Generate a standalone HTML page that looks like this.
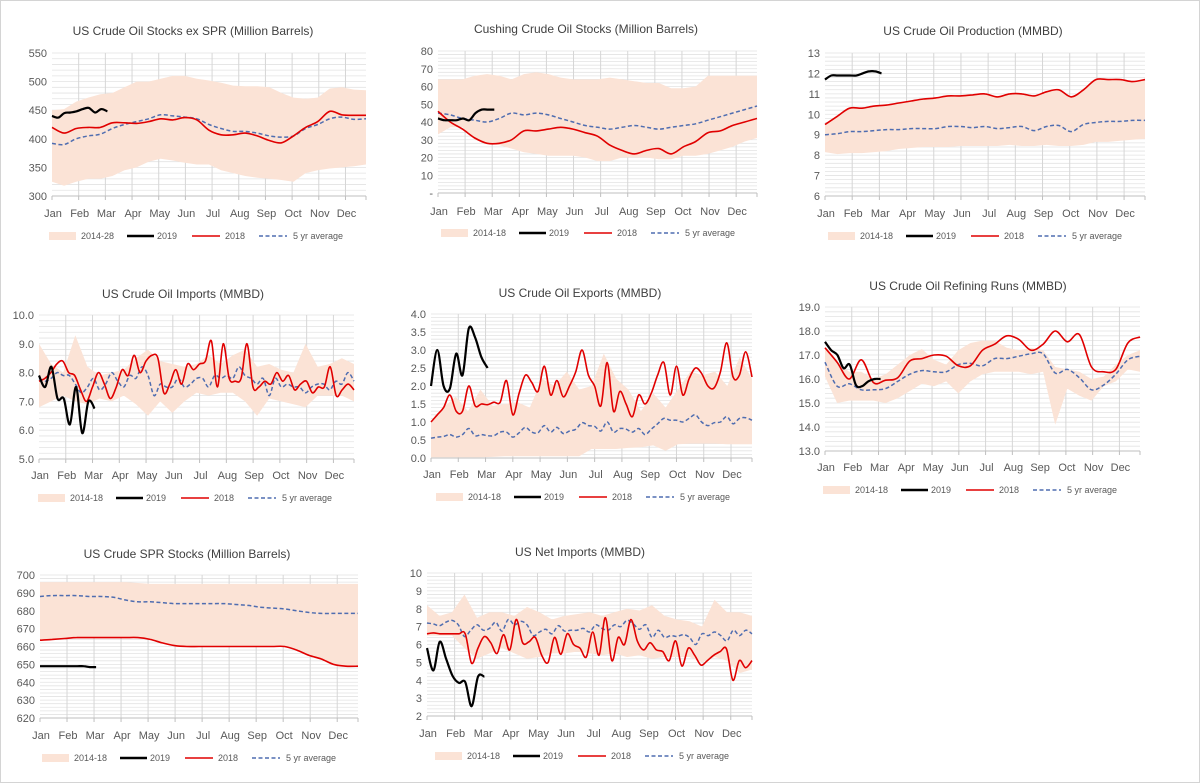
<!DOCTYPE html>
<html><head><meta charset="utf-8"><style>
html,body{margin:0;padding:0;background:#fff;}
svg{display:block;font-family:"Liberation Sans",Arial,sans-serif;}
</style></head><body>
<svg id="root" width="1200" height="783" viewBox="0 0 1200 783" xmlns="http://www.w3.org/2000/svg">
<rect x="0.5" y="0.5" width="1199" height="782" fill="#fff" stroke="#d4d4d4"/>
</svg>
<script>
const monthLabels = ["Jan","Feb","Mar","Apr","May","Jun","Jul","Aug","Sep","Oct","Nov","Dec"];

// Chart 1: US Crude Oil Stocks ex SPR
const c1Upper = [450,452,465,472,478,480,490,500,500,505,510,510,505,502,498,493,492,492,490,480,472,470,472,488,490,486,485];
const c1Lower = [325,318,325,330,330,335,345,350,360,365,362,358,355,355,345,340,335,332,330,328,325,340,345,348,350,352,355];
const c1Y2018 = [420,410,418,420,420,428,428,427,430,435,433,437,433,415,407,407,410,405,397,393,405,420,430,448,442,441,441];
const c1Avg = [392,390,400,405,408,418,425,430,435,442,440,438,435,425,418,413,413,410,405,403,405,418,425,435,438,434,435];
const c1Y2019 = [440,437,445,446,448,452,454,446,452,448];
const c1Ticks = [300,350,400,450,500,550];

// Chart 2: Cushing
const c2Upper = [64,64,64,66,67,66,64,67,68,67,65,64,64,64,65,64,63,62,62,59,59,60,66,66,66,66,66];
const c2Lower = [33,37,37,30,28,27,25,23,22,21,21,21,20,18,18,20,20,20,19,19,21,21,22,24,26,29,31];
const c2Y2018 = [46,40,36,31,28,28,30,35,35,36,37,36,34,32,27,24,22,24,25,22,26,29,34,35,38,40,42];
const c2Avg = [45,44,42,41,40,42,45,44,45,44,42,40,38,37,36,37,38,37,36,37,38,39,41,43,45,47,49];
const c2Y2019 = [42,41,41,41,42,41,45,47,47,47];
const c2Ticks = [0,10,20,30,40,50,60,70,80];

// Chart 3: Production
const c3Upper = [9.5,9.9,10.3,10.3,10.4,10.45,10.55,10.65,10.75,10.8,10.9,10.9,10.95,11.0,10.85,11.0,11.0,10.9,11.1,11.2,10.85,11.2,11.7,11.7,11.7,11.6,11.7];
const c3Lower = [8.15,8.05,8.1,8.1,8.15,8.2,8.3,8.35,8.4,8.4,8.4,8.45,8.45,8.45,8.45,8.5,8.45,8.45,8.5,8.45,8.45,8.5,8.65,8.65,8.7,8.75,8.8];
const c3Y2018 = [9.5,9.9,10.3,10.3,10.4,10.45,10.55,10.65,10.75,10.8,10.9,10.9,10.95,11.0,10.85,11.0,11.0,10.9,11.1,11.2,10.85,11.2,11.7,11.7,11.7,11.6,11.7];
const c3Avg = [9.0,9.05,9.15,9.15,9.2,9.25,9.25,9.3,9.3,9.3,9.4,9.4,9.35,9.4,9.3,9.35,9.4,9.2,9.4,9.45,9.15,9.5,9.6,9.65,9.65,9.7,9.7];
const c3Y2019 = [11.7,11.9,11.9,11.9,11.9,11.9,12.0,12.1,12.1,12.0];
const c3Ticks = [6,7,8,9,10,11,12,13];

// Chart 4: Imports
const c4Upper = [9.0,8.3,8.0,9.3,8.2,7.9,8.0,8.1,8.5,8.8,8.4,8.3,8.2,8.3,8.6,8.3,8.6,8.8,8.2,8.3,8.1,8.0,9.0,8.2,8.3,8.5,8.3];
const c4Lower = [6.8,7.0,7.2,7.0,6.9,7.1,7.0,7.2,6.9,6.5,7.0,6.6,7.0,7.3,7.2,7.3,7.3,7.0,6.5,7.1,7.0,6.9,6.8,7.2,7.2,7.2,7.0];
const c4Y2018 = [7.7,7.8,8.0,8.3,8.4,8.0,7.9,7.4,7.0,7.5,8.0,7.6,7.1,7.5,8.1,7.9,8.6,8.0,8.4,8.6,8.5,7.3,7.6,8.1,7.6,8.3,8.1,8.3,8.4,9.1,7.5,9.0,7.8,7.7,7.8,9.0,7.5,7.5,7.7,7.6,8.0,7.7,7.9,7.4,7.6,7.7,7.3,7.5,7.5,8.2,7.2,7.4,7.6,7.4];
const c4Avg = [7.8,7.7,7.8,8.0,7.9,7.9,7.6,7.3,7.5,7.8,7.4,7.6,8.0,7.7,7.5,7.9,7.8,8.2,7.9,7.2,7.6,7.5,7.5,7.8,7.5,7.6,7.8,7.8,7.5,7.9,7.8,7.9,7.8,8.2,7.9,7.8,7.6,7.8,7.2,7.8,7.5,7.6,7.5,7.5,7.3,7.5,7.6,7.6,7.4,7.7,7.6,8.0,7.7];
const c4Y2019 = [7.9,7.5,8.2,7.1,7.1,6.2,7.5,5.9,7.0,6.75];
const c4Ticks = [5,6,7,8,9,10];

// Chart 5: Exports
const c5Upper = [1.0,1.4,1.7,1.3,1.9,1.45,1.5,1.55,1.4,2.2,2.0,2.4,1.9,2.0,2.9,2.2,1.9,1.3,1.8,1.4,1.9,2.4,2.3,2.4,2.0,2.8,2.2];
const c5Lower = [0.02,0.02,0.02,0.02,0.02,0.03,0.05,0.05,0.05,0.05,0.05,0.05,0.05,0.25,0.25,0.25,0.28,0.3,0.35,0.2,0.38,0.4,0.4,0.4,0.38,0.38,0.38];
const c5Y2018 = [1.0,1.2,1.4,1.75,1.3,1.3,2.0,1.45,1.5,1.48,1.55,1.55,2.15,1.2,1.8,2.3,2.1,1.85,2.55,1.75,2.15,1.7,2.0,2.4,3.0,2.3,2.0,1.45,2.65,1.3,1.85,1.5,1.15,1.75,1.5,1.8,2.3,2.65,1.75,2.55,1.75,2.2,2.5,2.35,2.0,1.95,2.4,3.2,2.25,2.3,2.95,2.25];
const c5Avg = [0.55,0.58,0.6,0.65,0.58,0.65,0.82,0.62,0.65,0.62,0.62,0.72,0.72,0.58,0.7,0.85,0.72,0.7,0.9,0.72,0.85,0.68,0.75,0.8,0.98,0.9,0.88,0.75,1.0,0.72,0.82,0.8,0.72,0.82,0.65,0.8,0.95,1.1,1.05,1.05,1.0,1.1,1.2,1.0,0.9,0.98,1.0,1.15,0.95,1.1,1.12,1.05];
const c5Y2019 = [2.0,3.0,2.0,1.93,2.9,2.3,3.6,3.35,2.8,2.5];
const c5Ticks = [0,0.5,1,1.5,2,2.5,3,3.5,4];

// Chart 6: Refining runs
const c6Upper = [17.3,16.7,16.3,16.3,16.0,16.2,16.6,17.0,17.25,16.8,16.6,17.2,17.5,17.6,17.6,17.3,17.2,17.3,17.2,16.5,16.4,16.3,16.0,16.1,16.6,17.0,17.2];
const c6Lower = [16.1,15.0,15.1,15.1,15.1,15.0,15.2,15.5,15.8,15.7,15.9,15.4,15.9,16.2,16.3,16.3,16.3,16.2,16.3,14.1,15.6,15.3,15.1,15.7,15.9,16.4,16.3];
const c6Y2018 = [17.3,16.7,16.0,16.8,15.85,15.95,16.05,16.75,16.85,17.0,16.95,16.55,16.55,17.2,17.45,17.8,17.65,17.2,17.45,18.0,17.55,17.85,16.5,16.3,16.4,17.5,17.75];
const c6Avg = [16.7,15.7,15.8,15.55,15.55,15.6,15.9,16.2,16.35,16.3,16.3,16.6,16.65,16.55,16.85,16.85,16.95,17.05,17.05,16.25,16.4,16.05,15.55,15.75,16.2,16.8,16.95];
const c6Y2019 = [17.55,17.2,17.0,16.45,16.6,15.75,15.7,15.9,16.0,16.0];
const c6Ticks = [13,14,15,16,17,18,19];

// Chart 7: SPR
const c7Upper = [696,696,696,696,696,696,696,696,695.5,695,695,695,695,695,695,695,695,695,695,695,695,695,695,695,695,695,695];
const c7Lower = [663.5,664,664.5,665,665,665,665,665,665,664,662,660.5,660,660,660,660,660,660,660,660,660,658,655,653,650,649,649];
const c7Y2018 = [663.5,664,664.5,665,665,665,665,665,665,664,662,660.5,660,660,660,660,660,660,660,660,660,658,655,653,650,649,649];
const c7Avg = [688,688.5,688.5,688.5,688,688,687.5,686,685,685,684.5,684,684,684,684,684,683.5,683,682,681.5,681,680,679,678.5,678.5,678.5,678.5];
const c7Y2019 = [649,649,649,649,649,649,649,649,648.5,648.5];
const c7Ticks = [620,630,640,650,660,670,680,690,700];

// Chart 8: Net imports
const c8Upper = [8.2,7.6,7.8,8.8,7.5,7.8,7.8,7.6,8.1,7.8,7.4,7.6,7.7,7.8,7.6,7.8,8.0,7.9,8.2,7.6,7.4,7.3,7.0,8.5,7.8,7.8,7.6];
const c8Lower = [6.5,6.5,6.5,5.8,5.2,5.5,5.8,5.5,5.2,5.3,5.5,5.5,5.6,5.5,5.4,5.5,5.3,5.4,5.2,5.3,5.3,5.3,5.0,5.3,5.1,4.4,4.6];
const c8Y2018 = [6.6,6.65,6.6,6.6,6.6,6.6,6.6,4.95,5.8,6.45,6.1,5.5,6.55,5.7,7.4,6.1,6.15,6.4,5.4,5.0,6.4,5.45,6.6,6.0,5.8,5.3,6.7,5.4,7.5,5.1,6.4,6.0,7.4,6.2,5.7,6.1,5.7,5.6,5.1,6.2,4.8,5.8,5.4,4.85,5.1,5.4,5.6,5.75,4.0,5.1,4.7,5.1];
const c8Avg = [7.2,7.15,7.05,7.25,7.35,7.1,6.45,6.8,7.1,6.8,6.9,7.25,6.75,7.4,7.1,7.3,7.1,6.5,6.7,6.85,6.6,7.05,6.75,6.8,6.8,6.9,6.7,7.1,6.9,6.8,7.1,7.0,7.35,7.15,6.85,7.1,6.4,6.8,6.4,6.5,6.45,6.55,6.4,6.0,6.6,6.5,6.7,6.5,6.2,6.8,6.5,6.8,6.6];
const c8Y2019 = [5.8,4.55,6.15,5.2,4.25,3.85,3.9,2.55,4.2,4.2];
const c8Ticks = [2,3,4,5,6,7,8,9,10];

const NS = "http://www.w3.org/2000/svg";
const root = document.getElementById("root");
function mk(tag, attrs, parent){
  const e = document.createElementNS(NS, tag);
  for (const k in attrs) e.setAttribute(k, attrs[k]);
  parent.appendChild(e);
  return e;
}
function smoothPath(pts){
  if (pts.length < 2) return "";
  let d = "M" + pts[0][0].toFixed(1) + "," + pts[0][1].toFixed(1);
  for (let i = 0; i < pts.length - 1; i++){
    const p0 = pts[i-1] || pts[i], p1 = pts[i], p2 = pts[i+1], p3 = pts[i+2] || p2;
    const c1x = p1[0] + (p2[0]-p0[0])/6, c1y = p1[1] + (p2[1]-p0[1])/6;
    const c2x = p2[0] - (p3[0]-p1[0])/6, c2y = p2[1] - (p3[1]-p1[1])/6;
    d += " C" + c1x.toFixed(1) + "," + c1y.toFixed(1) + " " + c2x.toFixed(1) + "," + c2y.toFixed(1) + " " + p2[0].toFixed(1) + "," + p2[1].toFixed(1);
  }
  return d;
}
function pts(arr, w0, w1, xs, ys){
  const n = arr.length;
  return arr.map((v,i)=>[xs(w0 + (w1-w0)*i/(n-1)), ys(v)]);
}

function drawChart(cfg){
  const g = mk("g", {}, root);
  
  
  const L=cfg.L, R=cfg.R, T=cfg.T, B=cfg.B;
  const ymin = cfg.ticks[0], ymax = cfg.ticks[cfg.ticks.length-1];
  const xs = w => L + (R-L)*w/51;
  const ys = v => B - (B-T)*(v-ymin)/(ymax-ymin);
  // title
  const t = mk("text", {x:cfg.tx, y:cfg.ty, "text-anchor":"middle", "font-size":"12", fill:"#404040"}, g);
  t.textContent = cfg.title;
  
  
  // minor gridlines
  const step = cfg.ticks[1]-cfg.ticks[0];
  const minor = step/5;
  for (let v = ymin; v <= ymax + 1e-9; v += minor){
    const y = ys(v);
    mk("line", {x1:L, x2:R, y1:y, y2:y, stroke:"#e3e3e3", "stroke-width":"0.8"}, g);
  }
  // month gridlines
  for (let m = 0; m < 12; m++){
    const x = xs(m*52/12);
    if (m>0) mk("line", {x1:x, x2:x, y1:T, y2:B, stroke:"#d6d6d6", "stroke-width":"1"}, g);
    mk("line", {x1:x, x2:x, y1:B, y2:B+4, stroke:"#bfbfbf", "stroke-width":"1"}, g);
    const ml = mk("text", {x:x+1, y:cfg.my, "text-anchor":"middle", "font-size":"11", fill:"#595959"}, g);
    ml.textContent = monthLabels[m];
    
    
  }
  mk("line", {x1:R, x2:R, y1:B, y2:B+4, stroke:"#bfbfbf"}, g);
  // y ticks
  cfg.ticks.forEach(v=>{
    const y = ys(v);
    const tl = mk("text", {x:L-5, y:y+4, "text-anchor":"end", "font-size":"11", fill:"#595959"}, g);
    tl.textContent = (cfg.zeroDash && v===0) ? "-" : v.toFixed(cfg.dec);
    
    
  });
  // band
  const up = pts(cfg.upper, 0, 51, xs, ys), lo = pts(cfg.lower, 0, 51, xs, ys);
  let d = "M" + up.map(p=>p[0].toFixed(1)+","+p[1].toFixed(1)).join(" L") + " L" + lo.slice().reverse().map(p=>p[0].toFixed(1)+","+p[1].toFixed(1)).join(" L") + " Z";
  const band = mk("path", {d:d, fill:"#fbe3d6", stroke:"none"}, g);
  
  
  // axis
  mk("line", {x1:L, x2:R, y1:B, y2:B, stroke:"#bfbfbf", "stroke-width":"1"}, g);
  // avg
  const avg = mk("path", {d:smoothPath(pts(cfg.avg, 0, 51, xs, ys)), fill:"none", stroke:"#4f6db0", "stroke-width":"1.5", "stroke-dasharray":"4,2.5"}, g);
  
  
  const r = mk("path", {d:smoothPath(pts(cfg.y2018, 0, 51, xs, ys)), fill:"none", stroke:"#e00000", "stroke-width":"1.6"}, g);
  
  
  const k = mk("path", {d:smoothPath(pts(cfg.y2019, 0, 9, xs, ys)), fill:"none", stroke:"#000", "stroke-width":"2.2"}, g);
  
  
  // legend
  const lx = cfg.lx, ly = cfg.ly;
  const lg = mk("g", {"font-size":"9", fill:"#595959"}, g);
  
  
  mk("rect", {x:lx, y:ly-4, width:27, height:8, fill:"#fbe3d6"}, lg);
  let tt = mk("text", {x:lx+32, y:ly+3}, lg); tt.textContent = cfg.bandLabel;
  mk("line", {x1:lx+78, x2:lx+105, y1:ly, y2:ly, stroke:"#000", "stroke-width":"2.5"}, lg);
  tt = mk("text", {x:lx+108, y:ly+3}, lg); tt.textContent = "2019";
  mk("line", {x1:lx+143, x2:lx+171, y1:ly, y2:ly, stroke:"#e00000", "stroke-width":"1.6"}, lg);
  tt = mk("text", {x:lx+176, y:ly+3}, lg); tt.textContent = "2018";
  mk("line", {x1:lx+210, x2:lx+238, y1:ly, y2:ly, stroke:"#4f6db0", "stroke-width":"1.5", "stroke-dasharray":"4,2.5"}, lg);
  tt = mk("text", {x:lx+244, y:ly+3}, lg); tt.textContent = "5 yr average";
}

drawChart({name:"chart-crude-stocks-ex-spr", title:"US Crude  Oil Stocks ex SPR (Million Barrels)", tx:193, ty:35, L:52, R:366, T:53, B:196, my:217, lx:49, ly:236, ticks:c1Ticks, dec:0, upper:c1Upper, lower:c1Lower, y2018:c1Y2018, avg:c1Avg, y2019:c1Y2019, bandLabel:"2014-28"});
drawChart({name:"chart-cushing-stocks", title:"Cushing Crude Oil Stocks (Million Barrels)", tx:586, ty:33, L:438, R:757, T:51, B:193, my:215, lx:441, ly:233, ticks:c2Ticks, dec:0, zeroDash:true, upper:c2Upper, lower:c2Lower, y2018:c2Y2018, avg:c2Avg, y2019:c2Y2019, bandLabel:"2014-18"});
drawChart({name:"chart-crude-production", title:"US Crude  Oil Production (MMBD)", tx:973, ty:35, L:825, R:1145, T:53, B:196, my:217, lx:828, ly:236, ticks:c3Ticks, dec:0, upper:c3Upper, lower:c3Lower, y2018:c3Y2018, avg:c3Avg, y2019:c3Y2019, bandLabel:"2014-18"});
drawChart({name:"chart-crude-imports", title:"US Crude  Oil Imports (MMBD)", tx:183, ty:298, L:39, R:354, T:315, B:459, my:479, lx:38, ly:498, ticks:c4Ticks, dec:1, upper:c4Upper, lower:c4Lower, y2018:c4Y2018, avg:c4Avg, y2019:c4Y2019, bandLabel:"2014-18"});
drawChart({name:"chart-crude-exports", title:"US Crude  Oil Exports (MMBD)", tx:580, ty:297, L:431, R:752, T:314, B:458, my:478, lx:436, ly:497, ticks:c5Ticks, dec:1, upper:c5Upper, lower:c5Lower, y2018:c5Y2018, avg:c5Avg, y2019:c5Y2019, bandLabel:"2014-18"});
drawChart({name:"chart-refining-runs", title:"US Crude  Oil Refining Runs (MMBD)", tx:968, ty:290, L:825, R:1140, T:307, B:451, my:471, lx:823, ly:490, ticks:c6Ticks, dec:1, upper:c6Upper, lower:c6Lower, y2018:c6Y2018, avg:c6Avg, y2019:c6Y2019, bandLabel:"2014-18"});
drawChart({name:"chart-spr-stocks", title:"US Crude  SPR Stocks (Million Barrels)", tx:187, ty:558, L:40, R:358, T:575, B:718, my:739, lx:42, ly:758, ticks:c7Ticks, dec:0, upper:c7Upper, lower:c7Lower, y2018:c7Y2018, avg:c7Avg, y2019:c7Y2019, bandLabel:"2014-18"});
drawChart({name:"chart-net-imports", title:"US Net Imports  (MMBD)", tx:580, ty:556, L:427, R:752, T:573, B:716, my:737, lx:435, ly:756, ticks:c8Ticks, dec:0, upper:c8Upper, lower:c8Lower, y2018:c8Y2018, avg:c8Avg, y2019:c8Y2019, bandLabel:"2014-18"});
</script>
</body></html>
